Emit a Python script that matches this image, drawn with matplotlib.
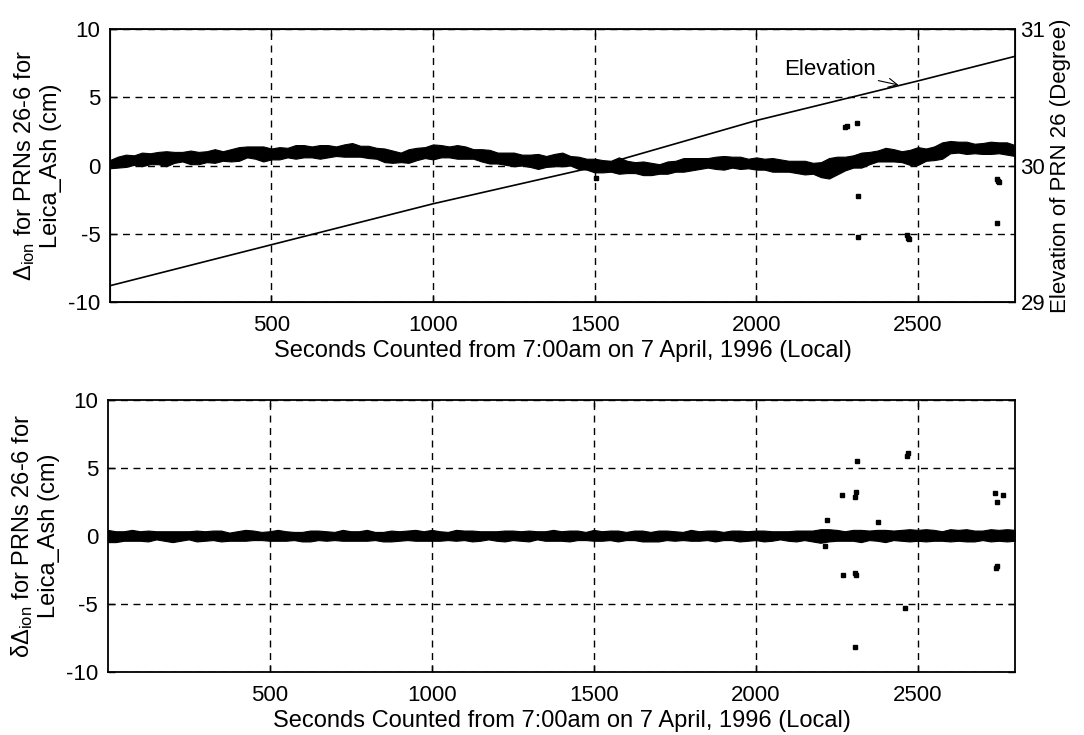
import numpy as np
import matplotlib
matplotlib.use("Agg")
import matplotlib.pyplot as plt

# time step of the digitised band (s)
step = 25

# top panel: centre and half width of the Delta_ion band (cm), every 25 s from t=0
top_c = [0.10, 0.25, 0.35, 0.40, 0.45, 0.50, 0.55, 0.50, 0.60, 0.65,
         0.60, 0.55, 0.65, 0.70, 0.70, 0.75, 0.85, 1.00, 0.95, 0.85,
         0.85, 0.90, 0.95, 1.00, 1.05, 1.00, 1.00, 1.05, 1.05, 1.10,
         1.15, 1.05, 1.00, 0.90, 0.75, 0.65, 0.60, 0.70, 0.85, 0.95,
         1.00, 1.05, 1.00, 1.00, 0.95, 0.85, 0.75, 0.65, 0.55, 0.50,
         0.45, 0.40, 0.35, 0.30, 0.30, 0.40, 0.45, 0.35, 0.20, 0.10,
         0.00, -0.05, -0.05, 0.00, -0.10, -0.15, -0.20, -0.25, -0.25, -0.15,
         -0.05, 0.05, 0.10, 0.15, 0.20, 0.20, 0.20, 0.25, 0.20, 0.15,
         0.15, 0.10, 0.05, 0.00, -0.05, -0.10, -0.15, -0.20, -0.30, -0.20,
         0.00, 0.15, 0.30, 0.40, 0.55, 0.70, 0.80, 0.75, 0.65, 0.60,
         0.70, 0.80, 0.90, 1.10, 1.35, 1.35, 1.30, 1.25, 1.25, 1.30,
         1.30, 1.25, 1.10]
top_hw = [0.30, 0.40, 0.45, 0.35, 0.50, 0.40, 0.45, 0.55, 0.40, 0.35,
          0.50, 0.45, 0.40, 0.50, 0.35, 0.45, 0.50, 0.40, 0.45, 0.55,
          0.40, 0.45, 0.35, 0.50, 0.45, 0.40, 0.50, 0.45, 0.35, 0.45,
          0.50, 0.40, 0.45, 0.40, 0.50, 0.45, 0.35, 0.50, 0.45, 0.40,
          0.55, 0.45, 0.40, 0.50, 0.45, 0.35, 0.45, 0.50, 0.40, 0.45,
          0.50, 0.40, 0.45, 0.55, 0.40, 0.45, 0.50, 0.35, 0.45, 0.40,
          0.50, 0.45, 0.40, 0.60, 0.45, 0.40, 0.50, 0.45, 0.35, 0.45,
          0.40, 0.50, 0.45, 0.40, 0.35, 0.45, 0.50, 0.40, 0.45, 0.35,
          0.45, 0.40, 0.50, 0.45, 0.40, 0.45, 0.50, 0.40, 0.55, 0.75,
          0.65, 0.50, 0.45, 0.55, 0.45, 0.40, 0.50, 0.45, 0.40, 0.55,
          0.65, 0.45, 0.50, 0.60, 0.45, 0.40, 0.45, 0.35, 0.40, 0.45,
          0.40, 0.45, 0.40]

# isolated points in the top panel
top_out_t = [1505, 2275, 2280, 2312, 2315, 2315, 2466, 2469, 2472, 2744, 2748, 2752, 2744]
top_out_v = [-0.9, 2.8, 2.9, 3.1, -2.2, -5.2, -5.1, -5.3, -5.4, -0.95, -1.1, -1.2, -4.2]

# elevation of PRN 26 (degree)
elev_t = [1, 500, 1000, 1500, 2000, 2500, 2800]
elev_v = [29.12, 29.42, 29.72, 29.99, 30.33, 30.62, 30.80]

# bottom panel: centre and half width of the delta Delta_ion band (cm)
bot_c = [0.00, -0.05, 0.00, 0.05, 0.00, 0.00, 0.05, 0.00, -0.05, 0.00,
         0.05, 0.00, 0.00, 0.05, 0.00, -0.05, 0.00, 0.05, 0.05, 0.00,
         0.00, 0.05, 0.00, 0.00, -0.05, 0.00, 0.05, 0.00, 0.00, 0.05,
         0.00, 0.00, 0.05, 0.00, -0.05, 0.00, 0.00, 0.05, 0.05, 0.00,
         0.05, 0.00, 0.00, 0.05, 0.05, 0.00, 0.00, 0.05, 0.00, 0.00,
         0.05, 0.00, 0.00, 0.05, 0.00, 0.05, 0.00, 0.00, 0.05, 0.00,
         0.05, 0.00, 0.05, 0.00, 0.00, 0.05, 0.00, -0.05, 0.00, 0.05,
         0.00, 0.00, 0.05, 0.00, 0.05, 0.00, 0.00, 0.05, 0.00, 0.00,
         0.05, 0.00, 0.00, 0.05, 0.00, 0.00, 0.05, 0.00, 0.00, 0.05,
         0.05, 0.00, 0.05, 0.00, 0.05, 0.05, 0.00, 0.05, 0.05, 0.05,
         0.05, 0.05, 0.05, 0.00, 0.05, 0.05, 0.05, 0.00, 0.05, 0.05,
         0.05, 0.05, 0.05]
bot_hw = [0.45, 0.40, 0.35, 0.40, 0.35, 0.40, 0.30, 0.35, 0.40, 0.35,
          0.30, 0.40, 0.35, 0.35, 0.40, 0.30, 0.35, 0.40, 0.35, 0.30,
          0.35, 0.40, 0.35, 0.30, 0.35, 0.40, 0.35, 0.35, 0.30, 0.40,
          0.35, 0.35, 0.40, 0.30, 0.35, 0.40, 0.35, 0.35, 0.40, 0.35,
          0.40, 0.35, 0.30, 0.40, 0.35, 0.40, 0.35, 0.30, 0.35, 0.40,
          0.35, 0.35, 0.40, 0.30, 0.35, 0.40, 0.35, 0.40, 0.35, 0.30,
          0.40, 0.35, 0.35, 0.40, 0.30, 0.35, 0.40, 0.35, 0.40, 0.35,
          0.35, 0.30, 0.40, 0.35, 0.35, 0.40, 0.30, 0.35, 0.40, 0.35,
          0.35, 0.40, 0.35, 0.30, 0.35, 0.40, 0.35, 0.40, 0.50, 0.45,
          0.40, 0.35, 0.40, 0.45, 0.35, 0.40, 0.45, 0.35, 0.40, 0.45,
          0.40, 0.45, 0.40, 0.35, 0.45, 0.40, 0.45, 0.40, 0.35, 0.45,
          0.40, 0.45, 0.40]

bot_out_t = [2265, 2306, 2310, 2312, 2466, 2470, 2737, 2744, 2762, 2269, 2306,
             2310, 2740, 2746, 2460, 2306, 2219, 2213, 2376]
bot_out_v = [3.0, 2.9, 3.2, 5.5, 5.9, 6.1, 3.15, 2.5, 3.0, -2.9, -2.75,
             -2.85, -2.35, -2.2, -5.3, -8.15, 1.2, -0.7, 1.0]

xticks = [500, 1000, 1500, 2000, 2500]
yticks = [-10, -5, 0, 5, 10]
xlabel = "Seconds Counted from 7:00am on 7 April, 1996 (Local)"

plt.rcParams['font.family'] = ['Liberation Sans', 'DejaVu Sans']
plt.rcParams['mathtext.fontset'] = 'custom'
plt.rcParams['mathtext.rm'] = 'Liberation Sans'
plt.rcParams['mathtext.it'] = 'Liberation Sans'
plt.rcParams['axes.unicode_minus'] = False
fs = 16

fig = plt.figure(figsize=(10.84, 7.35), dpi=100)
ax1 = fig.add_axes([0.1015, 0.589, 0.8348, 0.3715])
ax2 = fig.add_axes([0.0996, 0.0857, 0.8367, 0.3701])


def style(ax):
    ax.set_xlim(1, 2800)
    ax.set_ylim(-10, 10)
    ax.set_xticks(xticks)
    ax.set_yticks(yticks)
    ax.grid(True, color='black', linestyle=(0, (5, 4)), linewidth=1.0)
    ax.tick_params(direction='in', length=5, width=1, labelsize=fs)
    ax.tick_params(axis='x', pad=9)
    ax.tick_params(axis='y', pad=7)
    for s in ax.spines.values():
        s.set_linewidth(1.3)
    ax.set_xlabel(xlabel, fontsize=17, labelpad=3)


t_top = np.arange(len(top_c)) * step
c = np.array(top_c)
hw = np.array(top_hw)
ax1.fill_between(t_top, c - hw, c + hw, color='black', linewidth=0.8, edgecolor='black')
ax1.plot(top_out_t, top_out_v, 's', color='black', ms=3)
style(ax1)
ax1.tick_params(top=True, right=False)
ax1.set_ylabel('$\\Delta_{\\rm ion}$ for PRNs 26-6 for\nLeica_Ash (cm)', fontsize=17, labelpad=4)

ax1r = ax1.twinx()
ax1r.plot(elev_t, elev_v, color='black', linewidth=1.2)
ax1r.set_ylim(29, 31)
ax1r.set_yticks([29, 30, 31])
ax1r.tick_params(direction='in', length=5, width=1, labelsize=fs, pad=4)
ax1r.set_ylabel('Elevation of PRN 26 (Degree)', fontsize=fs, labelpad=3)
ax1r.annotate('Elevation', xy=(2440, 30.59), xytext=(2085, 30.70),
              fontsize=fs, ha='left', va='center',
              arrowprops=dict(arrowstyle='->', color='black', linewidth=0.8,
                              shrinkA=0, shrinkB=0))

t_bot = np.arange(len(bot_c)) * step
c = np.array(bot_c)
hw = np.array(bot_hw)
ax2.fill_between(t_bot, c - hw, c + hw, color='black', linewidth=0.8, edgecolor='black')
ax2.plot(bot_out_t, bot_out_v, 's', color='black', ms=3)
style(ax2)
ax2.tick_params(top=True, right=True)
ax2.set_ylabel('$\\delta\\Delta_{\\rm ion}$ for PRNs 26-6 for\nLeica_Ash (cm)', fontsize=17, labelpad=4)

fig.savefig('out.png', dpi=100)
